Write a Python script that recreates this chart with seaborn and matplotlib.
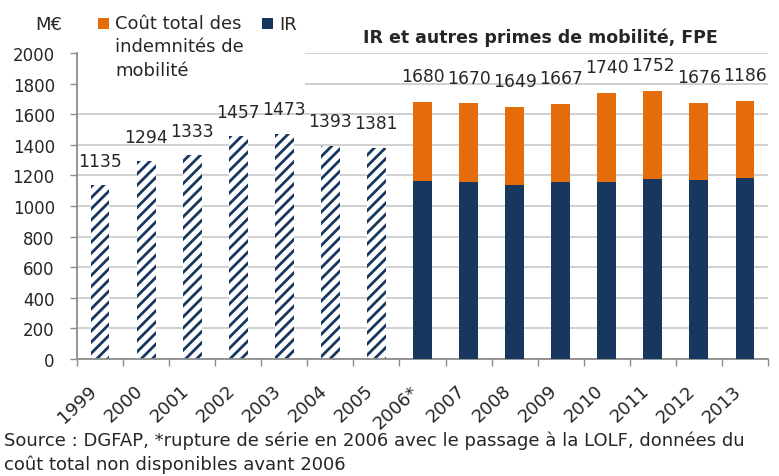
import numpy as np
import pandas as pd
import matplotlib.pyplot as plt
import seaborn as sns
from matplotlib.patches import Rectangle

years = ["1999", "2000", "2001", "2002", "2003", "2004", "2005",
         "2006*", "2007", "2008", "2009", "2010", "2011", "2012", "2013"]
old_years = years[:7]
old_values = [1135, 1294, 1333, 1457, 1473, 1393, 1381]
new_years = years[7:]
total_values = [1680, 1670, 1649, 1667, 1740, 1752, 1676, 1685]
ir_values = [1163, 1158, 1140, 1155, 1160, 1176, 1170, 1186]
new_labels = ["1680", "1670", "1649", "1667", "1740", "1752", "1676", "1186"]

navy = "#17375E"
orange = "#E46C0A"
grid_col = "#C8C8C8"
axis_col = "#8C8C8C"
fs = 12.3

sns.set_style("white")
plt.rcParams['font.family'] = ['DejaVu Sans']
plt.rcParams['hatch.color'] = navy
plt.rcParams['hatch.linewidth'] = 2.0

fig = plt.figure(figsize=(7.79, 4.77), dpi=100)
ax = fig.add_axes([77 / 779, 1 - 360 / 477, (768 - 77) / 779, (360 - 54) / 477])

sns.barplot(x=old_years, y=old_values, order=years, color="white", saturation=1,
            width=0.41, hatch="///", edgecolor=navy, linewidth=0, ax=ax, zorder=2)
sns.barplot(x=new_years, y=total_values, order=years, color=orange, saturation=1,
            width=0.41, linewidth=0, ax=ax, zorder=2)
sns.barplot(x=new_years, y=ir_values, order=years, color=navy, saturation=1,
            width=0.41, linewidth=0, ax=ax, zorder=3)

for i, v in enumerate(old_values):
    ax.annotate(str(v), (i, v), xytext=(0, 14), textcoords="offset points",
                ha="center", va="baseline", fontsize=fs)
for j, (v, lab) in enumerate(zip(total_values, new_labels)):
    ax.annotate(lab, (7 + j, v), xytext=(0, 15), textcoords="offset points",
                ha="center", va="baseline", fontsize=fs)

ax.set_ylim(0, 2000)
ax.set_xlim(-0.5, 14.5)
ax.set_yticks(np.arange(0, 2001, 200))
ax.yaxis.grid(True, color=grid_col, linewidth=1.2)
ax.set_axisbelow(True)
ax.set_xlabel("")
ax.set_ylabel("")
for s in ["top", "right"]:
    ax.spines[s].set_visible(False)
for s in ["left", "bottom"]:
    ax.spines[s].set_color(axis_col)
    ax.spines[s].set_linewidth(1.3)
ax.tick_params(axis="y", direction="out", length=5, width=1, color=axis_col,
               labelsize=12, pad=11, left=True)
ax.set_xticks(np.arange(-0.5, 15, 1), minor=True)
ax.tick_params(axis="x", which="minor", direction="out", length=5, width=1,
               color=axis_col, bottom=True)
ax.tick_params(axis="x", which="major", length=0, labelsize=13, pad=16)
plt.setp(ax.get_xticklabels(), rotation=43, ha="right", va="top",
         rotation_mode="default")

# white box behind the legend, as in the original
fig.patches.append(Rectangle((78 / 779, 1 - 102 / 477), (305 - 78) / 779, 102 / 477,
                             transform=fig.transFigure, facecolor="white",
                             edgecolor="none", zorder=1))
fig.text(35 / 779, 1 - 25 / 477, "M€", fontsize=13, va="center")
fig.patches.append(Rectangle((98 / 779, 1 - 30 / 477), 11 / 779, 11 / 477,
                             transform=fig.transFigure, facecolor=orange,
                             edgecolor="none", zorder=2))
fig.text(115 / 779, 1 - 15 / 477, "Coût total des\nindemnités de\nmobilité",
         fontsize=13, va="top", linespacing=1.38, zorder=3)
fig.patches.append(Rectangle((262 / 779, 1 - 30 / 477), 11 / 779, 11 / 477,
                             transform=fig.transFigure, facecolor=navy,
                             edgecolor="none", zorder=2))
fig.text(279 / 779, 1 - 25 / 477, "IR", fontsize=13, va="center", zorder=3)

fig.text(540 / 779, 1 - 38 / 477, "IR et autres primes de mobilité, FPE",
         fontsize=12.5, fontweight="bold", ha="center", va="center")

fig.text(4 / 779, 1 - 441 / 477,
         "Source : DGFAP, *rupture de série en 2006 avec le passage à la LOLF, données du",
         fontsize=13, va="center")
fig.text(4 / 779, 1 - 465 / 477, "coût total non disponibles avant 2006",
         fontsize=13, va="center")

fig.savefig("out.png", dpi=100)
